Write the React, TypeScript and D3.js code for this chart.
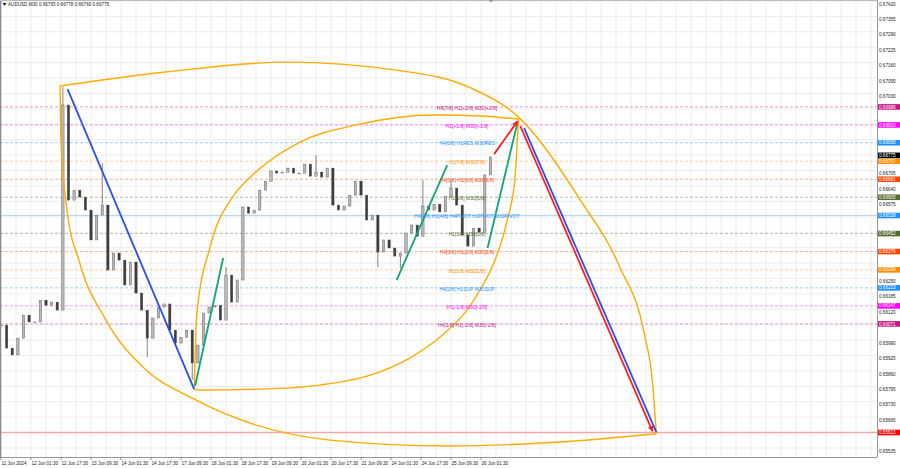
import React from 'react';
import * as d3 from 'd3';

const W = 900;
const H = 468;

// right axis price ticks
const priceTicks = [0.67420, 0.67355, 0.67290, 0.67225, 0.67160, 0.67095, 0.67030, 0.66965, 0.66900, 0.66835,
  0.66770, 0.66705, 0.66640, 0.66575, 0.66510, 0.66445, 0.66380, 0.66315, 0.66250, 0.66185,
  0.66120, 0.66055, 0.65990, 0.65925, 0.65860, 0.65795, 0.65730, 0.65665, 0.65600, 0.65535];

// bottom axis labels (one every 32 M30 bars)
const timeLabels = ["11 Jun 2024", "12 Jun 01:30", "12 Jun 17:30", "13 Jun 09:30", "14 Jun 01:30", "14 Jun 17:30",
  "17 Jun 09:30", "18 Jun 01:30", "18 Jun 17:30", "19 Jun 09:30", "20 Jun 01:30", "20 Jun 17:30",
  "21 Jun 09:30", "24 Jun 01:30", "24 Jun 17:30", "25 Jun 09:30", "26 Jun 01:30"];

// AUDUSD closes, one every 6 bars (3 hours)
const closes = [0.66066, 0.65969, 0.65940, 0.66011, 0.66108, 0.66079, 0.66079, 0.66171, 0.66150, 0.66163,
  0.66129, 0.66994, 0.66593, 0.66635, 0.66606, 0.66551, 0.66425, 0.66530, 0.66572, 0.66298,
  0.66370, 0.66340, 0.66235, 0.66332, 0.66201, 0.66129, 0.66011, 0.66096, 0.66142, 0.66155,
  0.66045, 0.65990, 0.66015, 0.66045, 0.65906, 0.65982, 0.66117, 0.66142, 0.66150, 0.66087,
  0.66277, 0.66163, 0.66256, 0.66564, 0.66538, 0.66551, 0.66635, 0.66673, 0.66716, 0.66707,
  0.66711, 0.66728, 0.66707, 0.66707, 0.66745, 0.66694, 0.66711, 0.66690, 0.66728, 0.66572,
  0.66551, 0.66568, 0.66614, 0.66673, 0.66614, 0.66509, 0.66530, 0.66374, 0.66425, 0.66391,
  0.66357, 0.66370, 0.66454, 0.66488, 0.66441, 0.66568, 0.66551, 0.66576, 0.66543, 0.66610,
  0.66644, 0.66572, 0.66446, 0.66399, 0.66475, 0.66458, 0.66699, 0.66775];
const barStep = 6;

// notable wicks: [sample index, price]
const wickHighs = [[11, 0.67070], [18, 0.66749], [40, 0.66311], [56, 0.66783], [75, 0.66678], [80, 0.66678]];
const wickLows = [[26, 0.65931], [34, 0.65834], [67, 0.66311], [71, 0.66306]];

// murrey levels
const levelPrices = [0.66986, 0.66910, 0.66835, 0.66757, 0.66681, 0.66605, 0.66528, 0.66452, 0.66376, 0.66299, 0.66223, 0.66147, 0.66071];
const levelNames = ["H4[7/8] H1[+2/8] M30[+2/8]", "H1[+1/8] M30[+1/8]", "H4[6/8] H1RES M30RES", "H1[7/8] M30[7/8]",
  "H4[5/8] H1[6/8] M30[6/8]", "H1[5/8] M30[5/8]", "H4[4/8] H1[4/8] H4PIVOT H1PIVOT M30PIVOT", "H1[3/8] M30[3/8]",
  "H4[3/8] H1[2/8] M30[2/8]", "H1[1/8] M30[1/8]", "H4[2/8] H1SUP M30SUP", "H1[-1/8] M30[-1/8]", "H4[1/8] H1[-2/8] M30[-2/8]"];
const levelColors = ["#c71585", "#ff00ff", "#1e90ff", "#ff8c00", "#ff4500", "#556b2f", "#1e90ff", "#556b2f",
  "#ff4500", "#ff8c00", "#1e90ff", "#ff00ff", "#c71585"];
const levelTextBar = 497;
const targetPrice = 0.65613;
const lastPrice = 0.66775;

// drawing objects: [bar, price], bars increasing left to right
const outerUpper = [[63, 0.67074], [175, 0.67133], [305, 0.67175], [420, 0.67142], [501, 0.67066], [552, 0.66943],
  [618, 0.66593], [660, 0.66311], [686, 0.66032], [695, 0.65821], [699, 0.65608]];
const outerLower = [[63, 0.67074], [64, 0.66846], [70, 0.66564], [84, 0.66328], [112, 0.66087], [155, 0.65876],
  [202, 0.65762], [351, 0.65581], [479, 0.65556], [596, 0.65573], [699, 0.65608]];
const innerUpper = [[206, 0.65796], [209, 0.66117], [223, 0.66395], [247, 0.66606], [266, 0.66690], [319, 0.66838],
  [379, 0.66910], [461, 0.66952], [511, 0.66948], [552, 0.66935]];
const innerLower = [[206, 0.65796], [212, 0.65792], [276, 0.65796], [340, 0.65813], [394, 0.65855], [436, 0.65927],
  [471, 0.66024], [497, 0.66129], [511, 0.66214], [527, 0.66340], [540, 0.66509], [548, 0.66678], [552, 0.66935]];
const blueDown = [[71, 0.67061], [206, 0.65796]];
const greenLegs = [
  [[207, 0.65809], [237, 0.66349]],
  [[422, 0.66256], [476, 0.66741]],
  [[519, 0.66391], [551, 0.66922]],
];
const redShort = [[526, 0.66787], [551, 0.66926]];
const redLong = [[554, 0.66905], [695, 0.65618]];
const blueLong = [[558, 0.66897], [699, 0.65615]];

const font = "'Liberation Sans', Arial, sans-serif";

export default function App() {
  const plotRight = 877;
  const plotBottom = 457;
  const x = d3.scaleLinear().domain([0, 32]).range([1, 31]);
  const y = d3.scaleLinear().domain([0.65535, 0.67420]).range([451, 4]);

  const line = d3.line<number[]>().x(d => x(d[0])).y(d => y(d[1]));
  const curve = d3.line<number[]>().x(d => x(d[0])).y(d => y(d[1])).curve(d3.curveMonotoneX);

  const maxBar = x.invert(plotRight);
  const vGrid = d3.range(0, maxBar, 16);

  const candles = closes.map((c, k) => {
    const o = k > 0 ? closes[k - 1] : c;
    const hiExtra = wickHighs.find(w => w[0] === k);
    const loExtra = wickLows.find(w => w[0] === k);
    const hi = Math.max(o, c, hiExtra ? hiExtra[1] : -Infinity);
    const lo = Math.min(o, c, loExtra ? loExtra[1] : Infinity);
    return { bar: k * barStep, o, c, hi, lo };
  });

  // axis boxes; the last-price box sits just above the 7/8 box like in the terminal
  const boxes = [
    ...levelPrices.map((p, i) => ({ p, color: levelColors[i], cy: y(p) })),
    { p: targetPrice, color: '#ff0000', cy: y(targetPrice) },
    { p: lastPrice, color: '#000', cy: y(lastPrice) - 1.6 },
  ];
  const freeTicks = priceTicks.filter(t => boxes.every(b => Math.abs(b.cy - y(t)) > 5.5));

  return (
    <svg width={W} height={H} style={{ position: 'absolute', left: 0, top: 0, background: '#fff' }}>
      <defs>
        <clipPath id="plot"><rect x={0} y={0} width={plotRight} height={plotBottom} /></clipPath>
        <marker id="arrRed" viewBox="0 0 10 10" refX="9" refY="5" markerWidth="3.2" markerHeight="3.2" orient="auto">
          <path d="M0,0 L10,5 L0,10 z" fill="#ff2020" />
        </marker>
      </defs>
      <rect x={0} y={0} width={W} height={H} fill="#fff" />

      <g clipPath="url(#plot)">
        {/* grid */}
        {vGrid.map(b => (
          <line key={'v' + b} x1={x(b)} x2={x(b)} y1={0} y2={plotBottom} stroke="#ededed" strokeWidth={1} />
        ))}
        {priceTicks.map(t => (
          <line key={'h' + t} x1={0} x2={plotRight} y1={y(t) - 3} y2={y(t) - 3} stroke="#ededed" strokeWidth={1} />
        ))}

        {/* levels */}
        {levelPrices.map((p, i) => (
          <line key={'l' + p} x1={0} x2={plotRight} y1={y(p)} y2={y(p)} stroke={levelColors[i]}
            strokeOpacity={i === 6 ? 0.35 : 0.42} strokeWidth={1} strokeDasharray={i === 6 ? undefined : '3,2'} />
        ))}
        <line x1={0} x2={plotRight} y1={y(targetPrice)} y2={y(targetPrice)} stroke="#ff0000" strokeOpacity={0.3} strokeWidth={1.6} />

        {/* candles */}
        {candles.map(d => {
          const cx = x(d.bar);
          const up = d.c >= d.o;
          const top = y(Math.max(d.o, d.c));
          const bot = y(Math.min(d.o, d.c));
          return (
            <g key={'c' + d.bar}>
              <line x1={cx} x2={cx} y1={y(d.hi)} y2={y(d.lo)} stroke="#666" strokeWidth={0.8} />
              <rect x={cx - 1.2} y={top} width={2.4} height={Math.max(0.8, bot - top)}
                fill={up ? '#b8b8b8' : '#3c3c3c'} stroke="#555" strokeWidth={0.4} />
            </g>
          );
        })}

        {/* orange arcs */}
        {[outerUpper, outerLower, innerUpper, innerLower].map((pts, i) => (
          <path key={'o' + i} d={curve(pts) || ''} fill="none" stroke="#ffaa00" strokeWidth={1.4} />
        ))}

        {/* wave lines */}
        <path d={line(blueDown) || ''} stroke="#2b4ef0" strokeWidth={1.8} fill="none" />
        {greenLegs.map((g, i) => (
          <path key={'g' + i} d={line(g) || ''} stroke="#0fa47a" strokeWidth={1.8} fill="none" />
        ))}
        <path d={line(blueLong) || ''} stroke="#2b4ef0" strokeWidth={1.8} fill="none" />
        <path d={line(redShort) || ''} stroke="#ff2020" strokeWidth={1.8} fill="none" markerEnd="url(#arrRed)" />
        <path d={line(redLong) || ''} stroke="#ff2020" strokeWidth={1.8} fill="none" markerEnd="url(#arrRed)" />

        {/* level captions */}
        {levelPrices.map((p, i) => (
          <text key={'t' + p} x={x(levelTextBar)} y={y(p) + 1} dy="0.35em" textAnchor="middle"
            fontFamily={font} fontSize={5} fill={levelColors[i]}>{levelNames[i]}</text>
        ))}
      </g>

      {/* frame */}
      <line x1={0.5} x2={0.5} y1={0} y2={plotBottom} stroke="#8a8a8a" strokeWidth={1.5} />
      <line x1={0} x2={plotRight} y1={0.5} y2={0.5} stroke="#bbb" strokeWidth={1} />
      <line x1={plotRight + 0.5} x2={plotRight + 0.5} y1={0} y2={plotBottom} stroke="#999" strokeWidth={1} />
      <line x1={0} x2={plotRight} y1={plotBottom + 0.5} y2={plotBottom + 0.5} stroke="#999" strokeWidth={1} />

      {/* price axis */}
      {freeTicks.map(t => (
        <text key={'pt' + t} x={plotRight + 2} y={y(t)} dy="0.35em" fontFamily={font} fontSize={4.6} fill="#222">
          {t.toFixed(5)}
        </text>
      ))}
      {boxes.map(b => (
        <g key={'pl' + b.p}>
          <rect x={plotRight + 1} y={b.cy - 2.8} width={W - plotRight - 1} height={5.6} fill={b.color} />
          <text x={plotRight + 2} y={b.cy} dy="0.35em" fontFamily={font} fontSize={4.6} fill="#fff">{b.p.toFixed(5)}</text>
        </g>
      ))}

      {/* time axis */}
      {timeLabels.map((t, i) => (
        <g key={'tl' + i}>
          <line x1={x(i * 32)} x2={x(i * 32)} y1={plotBottom} y2={plotBottom + 3} stroke="#777" strokeWidth={0.8} />
          <text x={x(i * 32) + 0.5} y={463.5} dy="0.35em" fontFamily={font} fontSize={4.6} fill="#222">{t}</text>
        </g>
      ))}

      {/* header */}
      <path d="M2.5,3 L6.5,3 L4.5,6 z" fill="#222" />
      <text x={8} y={4.8} dy="0.35em" fontFamily={font} fontSize={4.6} fill="#222">
        AUDUSD,M30  0.66765 0.66778 0.66760 0.66775
      </text>
      <path d="M489,0 L493,0 L491,2.5 z" fill="#888" />
    </svg>
  );
}
